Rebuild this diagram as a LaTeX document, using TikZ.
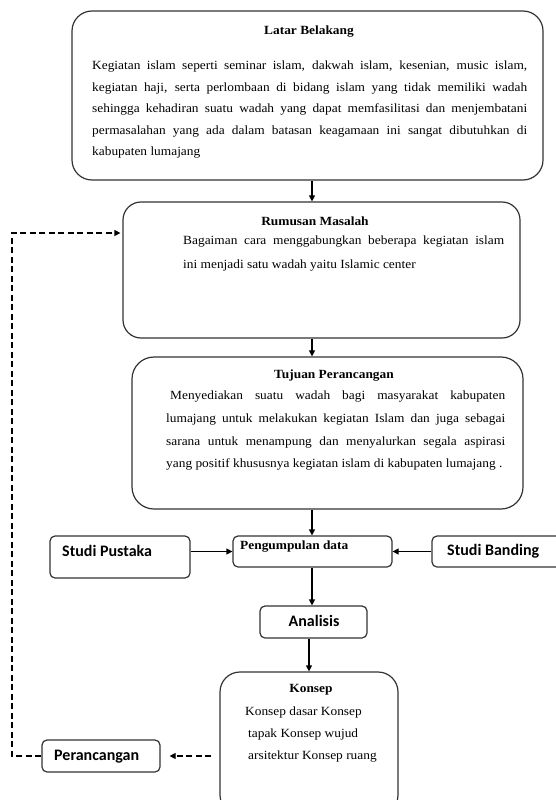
\documentclass[tikz,border=0pt]{standalone}
\usepackage{fontspec}
\setmainfont{Liberation Serif}
\newfontfamily\bodyserif[FakeStretch=1.07]{Liberation Serif}
\newfontfamily\calib{Carlito}
\usetikzlibrary{arrows.meta}
\tikzset{
  bigbox/.style={draw=black!80, line width=1.2pt, rounded corners=20pt, inner sep=0pt},
  smallbox/.style={draw=black!80, line width=1.2pt, rounded corners=5pt, inner sep=0pt},
  ttl/.style={font=\bodyserif\fontsize{12.5}{14}\selectfont\bfseries, inner sep=0pt},
  bodytext/.style={font=\bodyserif\fontsize{12.5}{#1}\selectfont, inner sep=0pt, align=justify, anchor=north west},
  sanslbl/.style={font=\calib\fontsize{16}{18}\selectfont\bfseries, inner sep=0pt, anchor=west},
  flow/.style={line width=1.2pt, -{Triangle[length=6pt,width=6pt]}},
  back/.style={line width=1.2pt, dash pattern=on 6pt off 3.5pt, -{Triangle[length=6pt,width=6pt]}},
}
\begin{document}
\begin{tikzpicture}[x=1pt,y=-1pt]
\useasboundingbox (0,0) rectangle (556,800);
\tolerance=9999 \emergencystretch=20pt
% boxes
\node[bigbox, minimum width=471pt, minimum height=169pt] (lb) at (307.5,95.5) {};
\node[bigbox, rounded corners=18pt, minimum width=397pt, minimum height=136pt] (rm) at (321.5,270) {};
\node[bigbox, rounded corners=22pt, minimum width=391pt, minimum height=152pt] (tp) at (327.5,433) {};
\node[smallbox, minimum width=159pt, minimum height=31pt] (pd) at (312.5,551.5) {};
\node[smallbox, minimum width=140pt, minimum height=42pt] (sp) at (120,557) {};
\node[smallbox, minimum width=134pt, minimum height=31pt] (sb) at (499,551.5) {};
\node[smallbox, minimum width=107pt, minimum height=32pt] (an) at (313.5,622) {};
\node[bigbox, minimum width=178pt, minimum height=143pt] (ks) at (309,743.5) {};
\node[smallbox, minimum width=118pt, minimum height=32pt] (pr) at (101,756) {};
% texts
\node[ttl] (lbt) at (309,32) {Latar Belakang};
\node[bodytext=21.5, text width=435pt] (lbb) at (92,61) {Kegiatan islam seperti seminar islam, dakwah islam, kesenian, music islam,\linebreak kegiatan haji, serta perlombaan di bidang islam yang tidak memiliki wadah\linebreak sehingga kehadiran suatu wadah yang dapat memfasilitasi dan menjembatani\linebreak permasalahan yang ada dalam batasan keagamaan ini sangat dibutuhkan di\linebreak kabupaten lumajang};
\node[ttl] (rmt) at (315,221) {Rumusan Masalah};
\node[bodytext=24, text width=321pt] (rmb) at (183,236) {Bagaiman cara menggabungkan beberapa kegiatan islam\linebreak ini menjadi satu wadah yaitu Islamic center};
\node[ttl] (tpt) at (334,376) {Tujuan Perancangan};
\node[bodytext=22.7, text width=339pt] (tpb) at (166,391) {\hspace*{4pt}Menyediakan suatu wadah bagi masyarakat kabupaten\linebreak lumajang untuk melakukan kegiatan Islam dan juga sebagai\linebreak sarana untuk menampung dan menyalurkan segala aspirasi\linebreak yang positif khususnya kegiatan islam di kabupaten lumajang .};
\node[ttl, anchor=west] (pdt) at (240,547) {Pengumpulan data};
\node[sanslbl] (spt) at (62,551) {Studi Pustaka};
\node[sanslbl] (sbt) at (447,551) {Studi Banding};
\node[sanslbl, anchor=center] (ant) at (314,621) {Analisis};
\node[ttl] (kst) at (311,690) {Konsep};
\node[bodytext=22, align=left] (ksb) at (245,707) {Konsep dasar Konsep\\\hspace*{3pt}tapak Konsep wujud\\\hspace*{3pt}arsitektur Konsep ruang};
\node[sanslbl] (prt) at (54,757) {Perancangan};
% connectors
\coordinate (spine) at (312,0);
\coordinate (kx) at (309,0);
\coordinate (lane) at (12,233);
\draw[flow] (lb.south -| spine) -- (rm.north -| spine);
\draw[flow] (rm.south -| spine) -- (tp.north -| spine);
\draw[flow] (tp.south -| spine) -- (pd.north -| spine);
\draw[flow] (sp.east |- pd.west) -- (pd.west);
\draw[flow] (sb.west) -- (pd.east);
\draw[flow] (pd.south -| spine) -- (an.north -| spine);
\draw[flow] (an.south -| kx) -- (ks.north -| kx);
\draw[back, shorten <=8pt, shorten >=9pt] (ks.west |- pr.east) -- (pr.east);
\draw[back, shorten >=2pt] (pr.west) -- (pr.west -| lane) -- (lane) -- (rm.west |- lane);
\end{tikzpicture}
\end{document}
